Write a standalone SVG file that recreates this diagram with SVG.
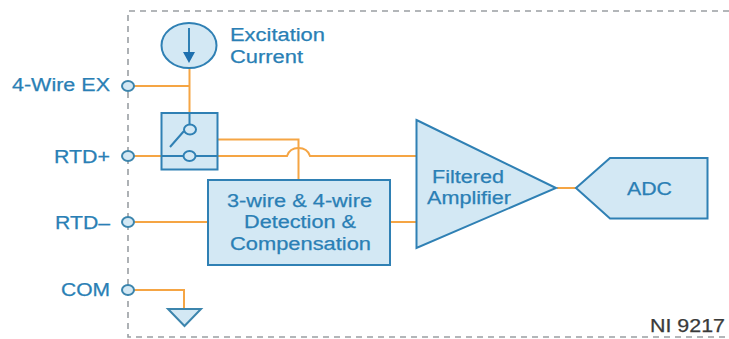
<svg xmlns="http://www.w3.org/2000/svg" width="729" height="339" viewBox="0 0 729 339">
<style>
text{font-family:"Liberation Sans",Arial,sans-serif;font-size:18px;fill:#2a7fb5;stroke:#2a7fb5;stroke-width:.25}
.n{fill:#d3e8f4;stroke:#2f80b4;stroke-width:2}
.w{fill:none;stroke:#f5a544;stroke-width:2}
.b{fill:none;stroke:#2f80b4;stroke-width:2}
.t{fill:#d3e8f4;stroke:#3c85ad;stroke-width:2}
</style>
<rect width="729" height="339" fill="#fff"/>
<path id="boundary" d="M729 11H128V337H729" fill="none" stroke="#9a9fa3" stroke-width="1.600" stroke-dasharray="6 5"/>
<g id="connectors">
<path class="w" d="M134 86H189.500M189.500 68V113"/>
<path class="w" d="M134 156H161M217 156H287C289 150 293 148 298.500 148C304 148 308 150 310 156H416"/>
<path class="w" d="M217 139.500H298.500V180"/>
<path class="w" d="M134 222H208M390 222H416"/>
<path class="w" d="M134 290H184V309"/>
<path class="w" d="M557 188H576"/>
</g>
<g id="excitation-current">
<ellipse class="n" cx="189" cy="45.500" rx="27.500" ry="22.500"/>
<path class="b" d="M189 28V55"/>
<path d="M183 52H195L189 63Z" fill="#1d6fae"/>
<text x="230" y="41" textLength="95" lengthAdjust="spacingAndGlyphs">Excitation</text>
<text x="230" y="63" textLength="73" lengthAdjust="spacingAndGlyphs">Current</text>
</g>
<g id="switch">
<rect class="n" x="161.500" y="113" width="56" height="56.500"/>
<path class="b" d="M189.500 113V124M170 147L184 131M161 156H183M196 156H217"/>
<ellipse class="b" cx="190" cy="129.500" rx="6" ry="5"/>
<ellipse class="b" cx="189.500" cy="156" rx="6" ry="5"/>
</g>
<g id="detection">
<rect class="n" x="208" y="180" width="182" height="85"/>
<text x="227" y="207" textLength="145" lengthAdjust="spacingAndGlyphs">3-wire &amp; 4-wire</text>
<text x="244" y="228" textLength="112" lengthAdjust="spacingAndGlyphs">Detection &amp;</text>
<text x="230" y="249.500" textLength="141" lengthAdjust="spacingAndGlyphs">Compensation</text>
</g>
<g id="amplifier">
<path class="n" d="M416.500 120L556 188L416.500 248Z"/>
<text x="432" y="183" textLength="72" lengthAdjust="spacingAndGlyphs">Filtered</text>
<text x="427" y="204" textLength="84" lengthAdjust="spacingAndGlyphs">Amplifier</text>
</g>
<g id="adc">
<path class="n" d="M576 188L610 158H707.500V218.500H610Z"/>
<text x="627" y="195" textLength="45" lengthAdjust="spacingAndGlyphs">ADC</text>
</g>
<g id="ground">
<path class="t" d="M168 309H201L184.500 326Z"/>
</g>
<g id="terminal-ex">
<text x="12" y="91" textLength="98" lengthAdjust="spacingAndGlyphs">4-Wire EX</text>
<ellipse class="t" cx="128" cy="86" rx="6" ry="5"/>
</g>
<g id="terminal-rtd-plus">
<text x="54" y="163" textLength="56" lengthAdjust="spacingAndGlyphs">RTD+</text>
<ellipse class="t" cx="128" cy="156" rx="6" ry="5"/>
</g>
<g id="terminal-rtd-minus">
<text x="55" y="229" textLength="55" lengthAdjust="spacingAndGlyphs">RTD–</text>
<ellipse class="t" cx="128" cy="222" rx="6" ry="5"/>
</g>
<g id="terminal-com">
<text x="61" y="296" textLength="49" lengthAdjust="spacingAndGlyphs">COM</text>
<ellipse class="t" cx="128" cy="290" rx="6" ry="5"/>
</g>
<text id="device-label" x="650" y="332" textLength="75" lengthAdjust="spacingAndGlyphs" style="fill:#3a3a3a;stroke:#3a3a3a">NI 9217</text>
</svg>
